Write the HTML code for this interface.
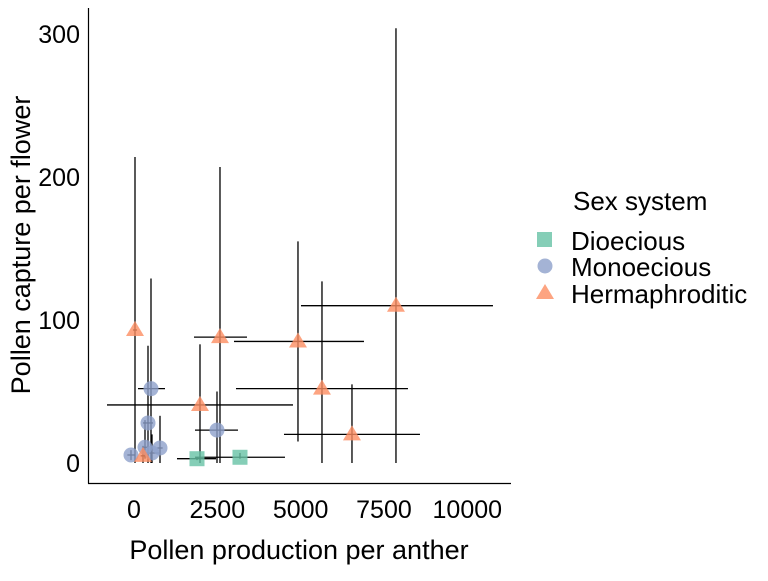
<!DOCTYPE html>
<html><head><meta charset="utf-8"><style>
body{margin:0;background:#fff;}
svg text{font-family:"Liberation Sans",Arial,sans-serif;fill:#000;}
</style></head><body>
<svg id="chart" width="768" height="576" xmlns="http://www.w3.org/2000/svg">
<g id="axes"></g>
<g id="bars"></g>
<g id="pts"></g>
<text x="299" y="559" font-size="27" text-anchor="middle">Pollen production per anther</text>
<text transform="translate(30,245) rotate(-90)" font-size="27" text-anchor="middle">Pollen capture per flower</text>
<g>
<text x="573" y="210" font-size="26">Sex system</text>
<rect x="537" y="232" width="15" height="15" fill="#66c2a5" fill-opacity="0.8"/>
<text x="571" y="250" font-size="26">Dioecious</text>
<circle cx="545" cy="266" r="7.5" fill="#8da0cb" fill-opacity="0.8"/>
<text x="571" y="276" font-size="26">Monoecious</text>
<polygon points="545,284 554,299 536,299" fill="#fc8d62" fill-opacity="0.8"/>
<text x="571" y="303" font-size="26">Hermaphroditic</text>
</g>
</svg>
<script>
const xTicks=[0,2500,5000,7500,10000];
const xTickLabels=["0","2500","5000","7500","10000"];
const yTicks=[0,100,200,300];
const yTickLabels=["0","100","200","300"];
const groups=["Dioecious","Dioecious","Monoecious","Monoecious","Monoecious","Monoecious","Monoecious","Monoecious","Monoecious","Hermaphroditic","Hermaphroditic","Hermaphroditic","Hermaphroditic","Hermaphroditic","Hermaphroditic","Hermaphroditic","Hermaphroditic"];
const xVals=[1890,3180,510,420,780,2490,-90,330,540,30,1980,2580,4920,5640,6540,7860,270];
const xMin=[1290,1830,120,270,700,1830,-200,250,350,-30,-810,1800,3000,3060,4500,5010,200];
const xMax=[2460,4530,930,570,860,3120,20,400,750,90,4770,3390,6900,8220,8580,10770,340];
const yVals=[3,4,52,28,10.5,23,5.6,11,7,93,40.6,88,85,52,20,110,5];
const yMin=[2,3,0,0,0,0,2,3,0,0,0,0,15,0,0,0,0];
const yMax=[4,7,129,82,33,50,9,30,20,214,83,207,155,127,55,304,12];

const X=v=>134+v*0.03333, Y=v=>463-v*1.43;
const NS="http://www.w3.org/2000/svg";
function mk(t,a,p){const e=document.createElementNS(NS,t);for(const k in a)e.setAttribute(k,a[k]);p.appendChild(e);return e;}
const axes=document.getElementById('axes');
let l=mk('line',{x1:88.5,y1:8,x2:88.5,y2:483.5,stroke:'#000','stroke-width':1.2},axes);


l=mk('line',{x1:88,y1:483.5,x2:511,y2:483.5,stroke:'#000','stroke-width':1.2},axes);


xTicks.forEach((v,i)=>{
 const t=mk('text',{x:X(v),y:518,'font-size':25,'text-anchor':'middle'},axes);t.textContent=xTickLabels[i];
 
 
});
yTicks.forEach((v,i)=>{
 const t=mk('text',{x:80,y:Y(v)+9,'font-size':25,'text-anchor':'end'},axes);t.textContent=yTickLabels[i];
 
 
});
const col={Dioecious:'#66c2a5',Monoecious:'#8da0cb',Hermaphroditic:'#fc8d62'};
const bars=document.getElementById('bars'),pts=document.getElementById('pts');
groups.forEach((g,i)=>{
 const cx=X(xVals[i]),cy=Y(yVals[i]);
 let s;
 if(g==='Dioecious'){s=mk('rect',{x:cx-7.5,y:cy-7.5,width:15,height:15},pts);}
 else if(g==='Monoecious'){s=mk('circle',{cx:cx,cy:cy,r:7.5},pts);}
 else{s=mk('polygon',{points:`${cx},${cy-9} ${cx+9},${cy+6} ${cx-9},${cy+6}`},pts);}
 s.setAttribute('fill',col[g]);s.setAttribute('fill-opacity','0.8');
 
 
 const v=mk('line',{x1:cx,x2:cx,y1:Y(yMin[i]),y2:Y(yMax[i]),stroke:'#000','stroke-width':1.3},bars);
 
 
 const h=mk('line',{x1:X(xMin[i]),x2:X(xMax[i]),y1:cy,y2:cy,stroke:'#000','stroke-width':1.3},bars);
 
 
});
</script>
</body></html>
